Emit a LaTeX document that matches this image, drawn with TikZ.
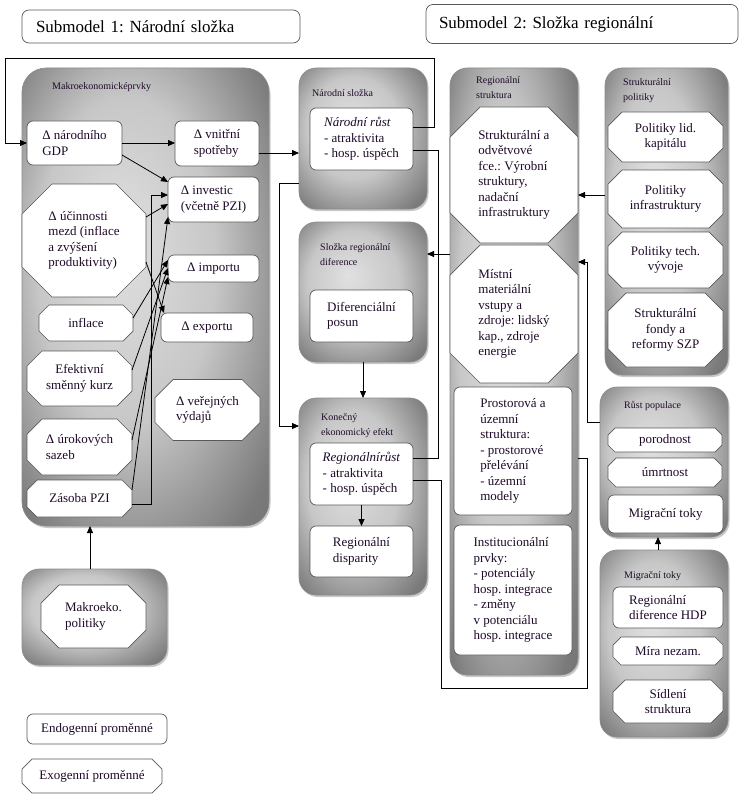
\documentclass[tikz,border=0pt]{standalone}
\usepackage{fontspec}
\setmainfont{Liberation Serif}
\usetikzlibrary{arrows.meta,calc,shadows}
\pgfdeclarelayer{grp}
\pgfdeclarelayer{mid}
\pgfsetlayers{grp,mid,main}
\definecolor{txtc}{RGB}{30,10,40}
\pgfdeclareradialshading{grpshade}{\pgfpoint{-6bp}{6bp}}{color(0bp)=(black!12); color(18bp)=(black!22); color(34bp)=(black!52); color(50bp)=(black!62)}
\newcommand\octo[2]{\draw[octoframe] ($(#1.north west)+(#2,0)$) -- ($(#1.north east)+(-#2,0)$) -- ($(#1.north east)+(0,#2)$) -- ($(#1.south east)+(0,-#2)$) -- ($(#1.south east)+(-#2,0)$) -- ($(#1.south west)+(#2,0)$) -- ($(#1.south west)+(0,-#2)$) -- ($(#1.north west)+(0,#2)$) -- cycle;}
\tikzset{
  wh/.style 2 args={minimum width=#1pt, minimum height=#2pt},
  base/.style={font=\fontsize{13}{15.5}\selectfont, text=txtc, inner sep=2pt, outer sep=0pt},
  rbox/.style={base, draw=black!65, line width=0.7pt, fill=white, rounded corners=6pt, align=left},
  obox/.style={base, align=left},
  octoframe/.style={draw=black!65, line width=0.7pt, fill=white},
  grpbox/.style={draw=black!45, line width=0.6pt, rounded corners=17pt, shade, shading=grpshade, outer sep=0pt,
     drop shadow={shadow xshift=1.5pt, shadow yshift=-2pt, opacity=0.35, fill=black!60}},
  glabel/.style={font=\fontsize{10}{15}\selectfont, text=txtc, align=left, anchor=west, inner sep=0pt},
  arr/.style={-{Triangle[length=7pt,width=6pt]}, line width=0.8pt},
  ln/.style={line width=0.8pt},
}
\begin{document}
\frenchspacing
\begin{tikzpicture}[x=1pt,y=-1pt]
\begin{pgfonlayer}{grp}
\fill[white] (0,0) rectangle (744,797);
\node[grpbox, wh={247}{458}, rounded corners=24pt] (mg) at (145.5,297) {};
\node[grpbox, wh={128}{141}] (ns) at (363,138.5) {};
\node[grpbox, wh={128}{140}] (srd) at (363,292) {};
\node[grpbox, wh={128}{197}] (kon) at (363,496.5) {};
\node[grpbox, wh={128}{607}] (rs) at (514,371.5) {};
\node[grpbox, wh={123}{307}] (sp) at (666.5,221.5) {};
\node[grpbox, wh={128}{150}] (rp) at (664,462) {};
\node[grpbox, wh={128}{187}] (mg2) at (664,643.5) {};
\node[grpbox, wh={145}{96}] (mp) at (94.5,617) {};
\end{pgfonlayer}
\useasboundingbox (0,0) rectangle (744,797);

% titles
\node[rbox, font=\fontsize{17}{20}\selectfont, text=black, wh={278}{33}, rounded corners=7pt, text width=250pt, inner xsep=14pt] (t1) at (161,26.5) {Submodel 1: Národní složka};
\node[rbox, font=\fontsize{17}{20}\selectfont, text=black, wh={312}{39}, rounded corners=7pt, text width=286pt, inner xsep=13pt] (t2) at (582,24) {Submodel 2: Složka regionální};

% group labels
\node[glabel] (lmg) at (52,87) {Makroekonomicképrvky};
\node[glabel] (lns) at (312,93) {Národní složka};
\node[glabel] (lsrd) at (320,255) {Složka regionální\\diference};
\node[glabel] (lkon) at (321,425.5) {Konečný\\ekonomický efekt};
\node[glabel] (lrs) at (476,87.5) {Regionální\\struktura};
\node[glabel] (lsp) at (623,90.5) {Strukturální\\politiky};
\node[glabel] (lrp) at (624,406) {Růst populace};
\node[glabel] (lmg2) at (624,576) {Migrační toky};

% submodel 1 nodes
\node[rbox, wh={95}{44}] (gdp) at (74.5,143) {Δ národního\\GDP};
\node[rbox, wh={84}{45}] (vs) at (217,143.5) {Δ vnitřní\\spotřeby};
\node[rbox, wh={91}{45}] (inv) at (213.5,199.5) {Δ investic\\(včetně PZI)};
\node[obox, wh={124}{113}] (ucin) at (84,240.5) {Δ účinnosti\\mezd (inflace\\a zvýšení\\produktivity)};
\node[rbox, wh={91}{27}] (imp) at (213.5,268.5) {Δ importu};
\node[rbox, wh={92}{29}] (exp) at (207,327.5) {Δ exportu};
\node[obox, align=center, wh={94}{36}] (infl) at (86,323) {inflace};
\node[obox, align=center, wh={105}{55}] (ef) at (79.5,378.5) {Efektivní\\směnný kurz};
\node[obox, wh={105}{61}] (vv) at (207.5,410) {Δ veřejných\\výdajů};
\node[obox, wh={105}{56}] (ur) at (79.5,447) {Δ úrokových\\sazeb};
\node[obox, wh={105}{37}] (zas) at (79.5,498.5) {Zásoba PZI};
\node[obox, wh={105}{63}] (mpo) at (93.5,616.5) {Makroeko.\\politiky};
\node[rbox, align=center, wh={140}{30}] (endo) at (97,729) {Endogenní proměnné};
\node[obox, align=center, wh={140}{34}] (exo) at (92,776) {Exogenní proměnné};

% middle column
\node[rbox, wh={103}{62}] (nr) at (361.5,139) {\textit{Národní růst}\\- atraktivita\\- hosp. úspěch};
\node[rbox, wh={103}{52}] (dp) at (361.5,316) {Diferenciální\\posun};
\node[rbox, wh={103}{62}] (rr) at (361.5,474) {\textit{Regionálnírůst}\\- atraktivita\\- hosp. úspěch};
\node[rbox, wh={103}{51}] (rd) at (361.5,551.5) {Regionální\\disparity};

% regional structure
\node[obox, wh={128}{136}] (s1) at (514,175) {Strukturální a\\odvětvové\\fce.: Výrobní\\struktury,\\nadační\\infrastruktury};
\node[obox, wh={128}{138}] (s2) at (514,314) {Místní\\materiální\\vstupy a\\zdroje: lidský\\kap., zdroje\\energie};
\node[rbox, wh={118}{128}] (s3) at (513,451) {Prostorová a\\územní\\struktura:\\- prostorové\\přelévání\\- územní\\modely};
\node[rbox, wh={118}{130}] (s4) at (513,590) {Institucionální\\prvky:\\- potenciály\\hosp. integrace\\- změny\\v potenciálu\\hosp. integrace};

% structural policies
\node[obox, align=center, wh={115}{50}] (p1) at (665.5,137) {Politiky lid.\\kapitálu};
\node[obox, align=center, wh={115}{58}] (p2) at (665.5,199) {Politiky\\infrastruktury};
\node[obox, align=center, wh={115}{56}] (p3) at (665.5,260) {Politiky tech.\\vývoje};
\node[obox, align=center, wh={115}{74}] (p4) at (665.5,330) {Strukturální\\fondy a\\reformy SZP};

% population
\node[obox, align=center, wh={114}{24}] (po) at (665,440) {porodnost};
\node[obox, align=center, wh={114}{29}] (um) at (665,472.5) {úmrtnost};
\node[rbox, align=center, wh={115}{38}] (mt) at (665.5,514) {Migrační toky};

% migration
\node[rbox, wh={110}{41}] (rdh) at (668,607.5) {Regionální\\diference HDP};
\node[obox, align=center, wh={110}{28}] (mn) at (668,651) {Míra nezam.};
\node[obox, align=center, wh={110}{43}] (sid) at (668,701.5) {Sídlení\\struktura};

\begin{pgfonlayer}{mid}
\octo{ucin}{30}
\octo{infl}{10}
\octo{ef}{15}
\octo{vv}{18}
\octo{ur}{15}
\octo{zas}{10}
\octo{mpo}{18}
\octo{exo}{10}
\octo{s1}{30}
\octo{s2}{30}
\octo{p1}{14}
\octo{p2}{14}
\octo{p3}{14}
\octo{p4}{18}
\octo{po}{7}
\octo{um}{8}
\octo{mn}{8}
\octo{sid}{12}
\end{pgfonlayer}

% connectors
\draw[arr] (nr.east |- 0,127) -- (434,127) -- (434,58) -- (5,58) -- (5,143) -- (gdp.west);
\draw[arr] (gdp.east) -- (vs.west |- gdp.east);
\draw[arr] (gdp.east |- 0,155) -- (inv.west |- 0,182);
\draw[arr] (ucin.east |- 0,217) -- (inv.west |- 0,204);
\draw[arr] (ucin.east |- 0,262) -- ($(exp.north west)+(3,0)$);
\draw[arr] (infl.east |- 0,318) -- (imp.west |- 0,260);
\draw[arr] (ef.east |- 0,370) -- (imp.west |- 0,268);
\draw[arr] (ur.east |- 0,440) -- (imp.west |- 0,277);
\draw[arr] (zas.east |- 0,490) -- (inv.west |- 0,217);
\draw[arr] (zas.east |- 0,504) -- (151,504) -- (151,195) -- (inv.west |- 0,195);
\draw[arr] (vs.east |- 0,153) -- (ns.west |- 0,153);
\draw[arr] (ns.west |- 0,183) -- (279,183) -- (279,426) -- (kon.west |- 0,426);
\draw[ln] (nr.east |- 0,150) -- (438,150) -- (438,458) -- (rr.east |- 0,458);
\draw[ln] (rr.east |- 0,480) -- (441,480) -- (441,688) -- (587,688) -- (587,458) -- (rs.east |- 0,458);
\draw[arr] (srd.south) -- (kon.north);
\draw[arr] (rr.south) -- (rd.north);
\draw[arr] (rs.west |- 0,254) -- (srd.east |- 0,254);
\draw[arr] (sp.west |- 0,195) -- (rs.east |- 0,195);
\draw[arr] (rp.west |- 0,422) -- (587,422) -- (587,262) -- (rs.east |- 0,262);
\draw[arr] (mg2.north -| 658,0) -- (rp.south -| 658,0);
\draw[arr] (mp.north -| 90,0) -- (mg.south -| 90,0);
\end{tikzpicture}
\end{document}
